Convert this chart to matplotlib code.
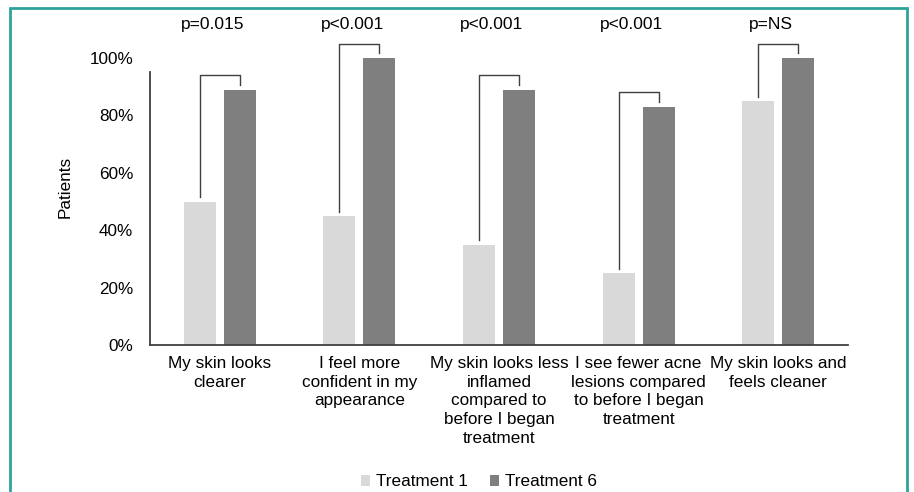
import numpy as np
import matplotlib
matplotlib.use("Agg")
import matplotlib.pyplot as plt
from matplotlib.patches import Rectangle
from matplotlib.ticker import FuncFormatter

plt.rcParams['font.family'] = ['Liberation Sans', 'DejaVu Sans']
fs = 12.3

categories = [
    "My skin looks\nclearer",
    "I feel more\nconfident in my\nappearance",
    "My skin looks less\ninflamed\ncompared to\nbefore I began\ntreatment",
    "I see fewer acne\nlesions compared\nto before I began\ntreatment",
    "My skin looks and\nfeels cleaner",
]
treatment_1 = [50, 45, 35, 25, 85]
treatment_6 = [89, 100, 89, 83, 100]
p_values = ["p=0.015", "p<0.001", "p<0.001", "p<0.001", "p=NS"]

c_t1 = "#d9d9d9"
c_t6 = "#7f7f7f"
c_line = "#404040"

W, H = 914, 492
fig = plt.figure(figsize=(W / 100, H / 100), dpi=100)
ax = fig.add_axes([150 / W, 1 - 345 / H, (848 - 150) / W, (345 - 58) / H])

x = np.arange(len(categories))
off = 0.143
bw = 0.23
ax.bar(x - off, treatment_1, bw, color=c_t1, label="Treatment 1")
ax.bar(x + off, treatment_6, bw, color=c_t6, label="Treatment 6")

# significance brackets
for i in range(len(categories)):
    top = treatment_6[i] + 5
    ax.plot([x[i] - off, x[i] - off, x[i] + off, x[i] + off],
            [treatment_1[i] + 1.5, top, top, treatment_6[i] + 1.7],
            color=c_line, lw=1.0, clip_on=False)
    ax.text(x[i] - 0.05, 111.5, p_values[i], ha='center', va='center',
            fontsize=12.5, clip_on=False)

ax.set_xlim(-0.5, len(categories) - 0.5)
ax.set_ylim(0, 100)
ax.set_yticks(np.arange(0, 101, 20))
ax.yaxis.set_major_formatter(FuncFormatter(lambda v, p: f"{int(v)}%"))
ax.set_xticks(x)
ax.set_xticklabels(categories, linespacing=1.3)
ax.tick_params(axis='both', length=0, labelsize=fs)
ax.tick_params(axis='y', pad=12)
ax.tick_params(axis='x', pad=8)
ax.set_ylabel("Patients", fontsize=fs, labelpad=12)
ax.yaxis.label.set_y(0.549)

for s in ['top', 'right']:
    ax.spines[s].set_visible(False)
ax.spines['left'].set_bounds(0, 95)
ax.spines['left'].set_color(c_line)
ax.spines['bottom'].set_color(c_line)
ax.spines['left'].set_linewidth(1.3)
ax.spines['bottom'].set_linewidth(1.3)

fig.legend(loc='center', bbox_to_anchor=(479 / W, 1 - 482 / H), ncol=2,
           frameon=False, handlelength=0.55, handleheight=0.55,
           handletextpad=0.35, columnspacing=1.3, fontsize=fs)

# teal frame around the figure
fig.patches.append(Rectangle((10 / W, -0.1), (907 - 10) / W, 1.1 - 8 / H,
                             transform=fig.transFigure, fill=False,
                             edgecolor="#2fa39a", lw=2))

fig.savefig("out.png", dpi=100)
